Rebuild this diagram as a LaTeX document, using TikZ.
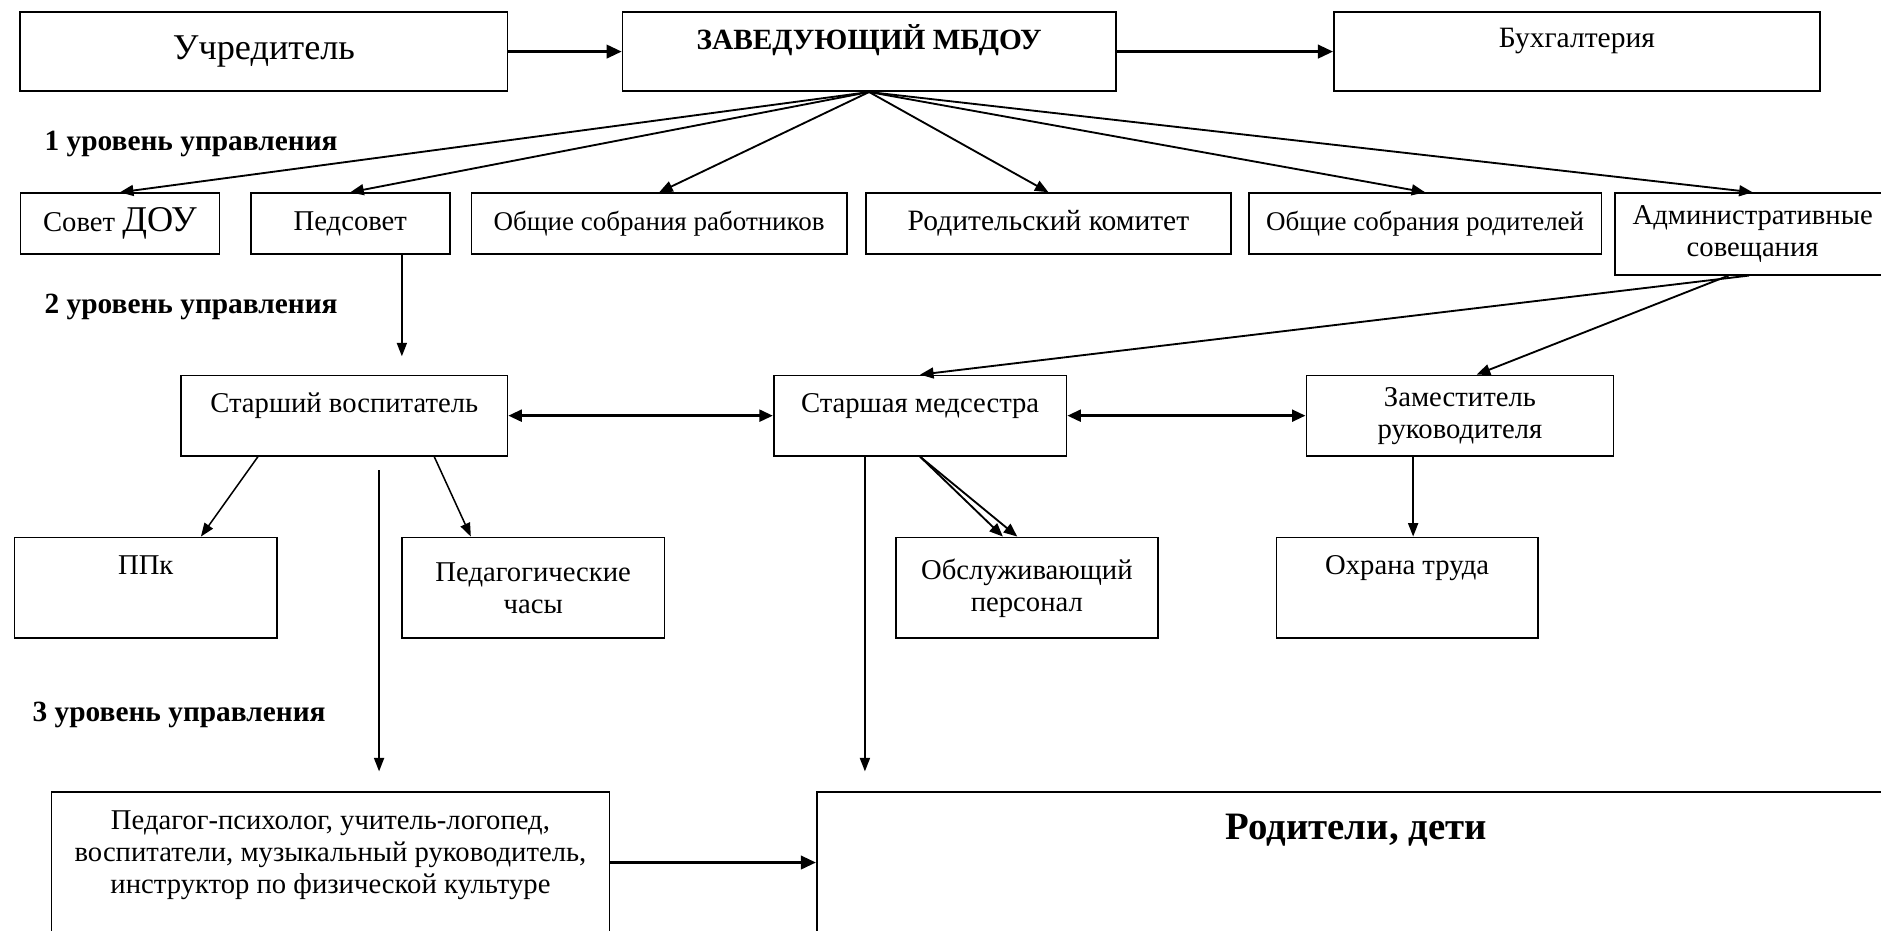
\documentclass[tikz,border=0pt]{standalone}
\usepackage{fontspec}
\setmainfont{Liberation Serif}
\usetikzlibrary{arrows.meta,positioning,calc}

\newcommand{\txtsize}{\fontsize{17}{19}\selectfont}
\newcommand{\smallsize}{\fontsize{16}{19}\selectfont}
\newcommand{\bigsize}{\fontsize{21.5}{24}\selectfont}

\begin{document}
\begin{tikzpicture}[x=0.025cm, y=-0.025cm,
  box/.style={draw, line width=1pt, align=center, font=\txtsize, inner sep=2pt},
  arr/.style={-{Triangle[length=8pt, width=6.5pt]}, line width=1.1pt},
  thinarr/.style={-{Triangle[length=8pt, width=6pt]}, line width=0.9pt},
  thickarr/.style={-{Triangle[length=9pt, width=8pt]}, line width=1.6pt},
  dbl/.style={{Triangle[length=8pt, width=7pt]}-{Triangle[length=8pt, width=7pt]}, line width=1.6pt},
  lvl/.style={font=\fontsize{17.4}{20}\selectfont\bfseries, anchor=west, inner sep=0pt},
]
\clip (0,0) rectangle (1568,776);

\node[box, minimum width=10.15cm, minimum height=1.65cm, font=\bigsize] (uchr) at (220,43) {Учредитель};
\node[box, minimum width=10.275cm, minimum height=1.65cm, font=\fontsize{17.4}{20}\selectfont\bfseries,
      text height=0pt, text depth=0.1cm] (zav) at (724.5,43) {ЗАВЕДУЮЩИЙ МБДОУ};
\node[box, minimum width=10.125cm, minimum height=1.65cm, font=\fontsize{17.5}{20}\selectfont,
      text height=0pt, text depth=0.15cm] (buh) at (1314.5,43) {Бухгалтерия};

\node[lvl] (lvl1) at (37,120) {1 уровень управления};

\node[box, minimum width=4.15cm, minimum height=1.275cm] (sovet) at (100,186.5) {Совет {\bigsize ДОУ}};
\node[box, minimum width=4.15cm, minimum height=1.275cm] (ped) at (292,186.5) {Педсовет};
\node[box, minimum width=7.825cm, minimum height=1.275cm, font=\smallsize] (osr) at (549.5,186.5) {Общие собрания работников};
\node[box, minimum width=7.6cm, minimum height=1.275cm, font=\fontsize{17.5}{20}\selectfont] (rk) at (874,186.5) {Родительский комитет};
\node[box, minimum width=7.35cm, minimum height=1.275cm, font=\smallsize] (osrod) at (1188,186.5) {Общие собрания родителей};
\node[box, minimum width=5.75cm, minimum height=1.7cm] (adm) at (1461,195) {Административные\\совещания};

\node[lvl] (lvl2) at (37,256) {2 уровень управления};

\node[box, minimum width=6.8cm, minimum height=1.675cm,
      text height=0pt, text depth=0.125cm] (stv) at (287,346.5) {Старший воспитатель};
\node[box, minimum width=6.1cm, minimum height=1.675cm,
      text height=0pt, text depth=0.125cm] (med) at (767,346.5) {Старшая медсестра};
\node[box, minimum width=6.4cm, minimum height=1.675cm] (zam) at (1217,346.5) {Заместитель\\руководителя};

\node[box, minimum width=5.475cm, minimum height=2.1cm,
      text height=0pt, text depth=0.55cm] (ppk) at (121.5,490) {ППк};
\node[box, minimum width=5.475cm, minimum height=2.1cm] (pch) at (444.5,490) {Педагогические\\часы};
\node[box, minimum width=5.45cm, minimum height=2.1cm] (obs) at (856,490) {Обслуживающий\\персонал};
\node[box, minimum width=5.45cm, minimum height=2.1cm,
      text height=0pt, text depth=0.55cm] (ohr) at (1173,490) {Охрана труда};

\node[lvl] (lvl3) at (27,596) {3 уровень управления};

\node[box, minimum width=11.625cm, minimum height=2.95cm,
      text height=1.3cm, text depth=0pt] (pedpsy) at (275.5,719)
  {Педагог-психолог, учитель-логопед,\\воспитатели, музыкальный руководитель,\\инструктор по физической культуре};
\node[box, minimum width=22.475cm, minimum height=2.95cm, font=\fontsize{23}{26}\selectfont\bfseries,
      text height=0pt, text depth=0.95cm] (rod) at (1130.5,719) {Родители, дети};

\coordinate (pedsovend) at (335,297);
\coordinate (stvtop) at (316,392);
\coordinate (stvend) at (316,643);
\coordinate (medend) at (721,643);
\coordinate (zamout) at ($(zam.south)+(-39,0)$);

\draw[thickarr] (uchr) -- (zav);
\draw[thickarr] (zav) -- (buh);

\draw[arr] (zav.south) -- (sovet.north);
\draw[arr] (zav.south) -- (ped.north);
\draw[arr] (zav.south) -- (osr.north);
\draw[arr] (zav.south) -- (rk.north);
\draw[arr] (zav.south) -- (osrod.north);
\draw[arr] (zav.south) -- (adm.north);

\draw[thinarr] ($(ped.south)+(43,0)$) -- (pedsovend);

\draw[arr] ($(adm.south)+(-3,0)$) -- (med.north);
\draw[arr] ($(adm.south)+(-20,0)$) -- ($(zam.north)+(14,0)$);

\draw[dbl] (stv) -- (med);
\draw[dbl] (med) -- (zam);

\draw[thinarr] ($(stv.south)+(-72,0)$) -- ($(ppk.north)+(46,0)$);
\draw[thinarr] ($(stv.south)+(75,0)$) -- ($(pch.north)+(-52,0)$);
\draw[thinarr] (stvtop) -- (stvend);
\draw[thinarr] ($(med.south)+(-46,0)$) -- (medend);
\draw[arr] (med.south) -- ($(obs.north)+(-20,0)$);
\draw[arr] (med.south) -- ($(obs.north)+(-8,0)$);
\draw[thinarr] (zamout) -- (zamout |- ohr.north);

\draw[thickarr] (pedpsy) -- (rod);
\end{tikzpicture}
\end{document}
